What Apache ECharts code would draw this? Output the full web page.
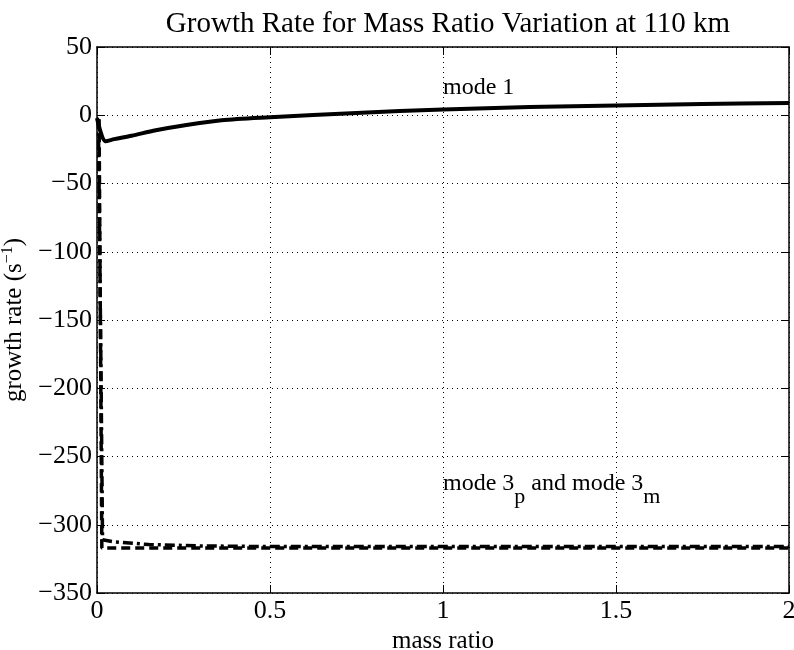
<!DOCTYPE html>
<html lang="en" style="height: 100%">
<head>
<meta charset="utf-8">
<title>Growth Rate for Mass Ratio Variation</title>
</head>
<body style="height: 100%; margin: 0; background: #fff">
<div id="container" style="width: 794px; height: 650px"></div>
<script type="text/javascript" src="https://cdn.jsdelivr.net/npm/echarts@6/dist/echarts.min.js"></script>
<script type="text/javascript">
var dom = document.getElementById('container');
var myChart = echarts.init(dom);

// mass ratio vs growth rate (s^-1)
var mode1 = [
  [0, -2], [0.025, -19], [0.05, -17.5], [0.1, -15], [0.17, -11],
  [0.25, -7.5], [0.36, -3.7], [0.5, -1.5], [0.75, 1.7], [1.0, 4.2],
  [1.25, 6], [1.5, 7.2], [1.75, 8.2], [2.0, 9]
];
var mode3p = [
  [0.004, -3], [0.012, -200], [0.016, -311], [0.05, -312.5], [0.15, -314.5],
  [0.3, -315.5], [0.5, -316], [1.0, -316], [1.5, -316], [2.0, -316]
];
var mode3m = [
  [0.006, -3], [0.011, -200], [0.014, -317], [0.5, -317], [1.0, -317],
  [1.5, -317], [2.0, -317]
];
var xTicks = [0, 0.5, 1, 1.5, 2];

var font = 'Liberation Serif';

option = {
  backgroundColor: '#fff',
  animation: false,
  title: {
    text: 'Growth Rate for Mass Ratio Variation at 110 km',
    left: 443,
    textAlign: 'center',
    top: 5,
    textStyle: {fontFamily: font, fontSize: 29, fontWeight: 'normal', color: '#000'}
  },
  grid: {left: 97, right: 5, top: 47, bottom: 57, outerBoundsMode: 'none', containLabel: false},
  xAxis: [
    {
      type: 'value', min: 0, max: 2, interval: 0.5,
      name: 'mass ratio', nameLocation: 'middle', nameGap: 31,
      nameTextStyle: {fontFamily: font, fontSize: 25, color: '#000'},
      axisLine: {onZero: false, lineStyle: {color: '#000', width: 1.5}},
      axisTick: {inside: true, length: 8, lineStyle: {color: '#000'}},
      axisLabel: {
        fontFamily: font, fontSize: 26, color: '#000', margin: 5,
        formatter: function (v) { return xTicks.indexOf(v) >= 0 ? String(v) : ''; }
      },
      splitLine: {show: true, lineStyle: {color: '#000', type: [1, 4], width: 1}}
    },
    {
      type: 'value', min: 0, max: 2, interval: 0.5, position: 'top',
      axisLine: {show: true, onZero: false, lineStyle: {color: '#000', width: 1.5}},
      axisTick: {inside: true, length: 8, lineStyle: {color: '#000'}},
      axisLabel: {show: false}, splitLine: {show: false}
    }
  ],
  yAxis: [
    {
      type: 'value', min: -350, max: 50, interval: 50,
      name: 'growth rate (s{sup|\u22121})', nameLocation: 'middle', nameGap: 64,
      nameTextStyle: {
        fontFamily: font, fontSize: 25, color: '#000',
        rich: {sup: {fontFamily: font, fontSize: 16, color: '#000', padding: [0, 0, 14, 0]}}
      },
      axisLine: {show: true, onZero: false, lineStyle: {color: '#000', width: 1.5}},
      axisTick: {inside: true, length: 8, lineStyle: {color: '#000'}},
      axisLabel: {
        fontFamily: font, fontSize: 26, color: '#000', margin: 5,
        formatter: function (v) { return v < 0 ? '\u2212' + Math.abs(v) : String(v); }
      },
      splitLine: {show: true, lineStyle: {color: '#000', type: [1, 4], width: 1}}
    },
    {
      type: 'value', min: -350, max: 50, interval: 50, position: 'right',
      axisLine: {show: true, onZero: false, lineStyle: {color: '#000', width: 1.5}},
      axisTick: {inside: true, length: 8, lineStyle: {color: '#000'}},
      axisLabel: {show: false}, splitLine: {show: false}
    }
  ],
  series: [
    {
      name: 'mode 1', type: 'line', data: mode1, showSymbol: false, smooth: 0.3,
      lineStyle: {color: '#000', width: 4},
      markPoint: {
        symbol: 'circle', symbolSize: 0, silent: true,
        data: [{coord: [1.0, 20]}],
        label: {
          show: true, position: 'right', distance: 0,
          formatter: 'mode 1',
          fontFamily: font, fontSize: 24, color: '#000'
        }
      }
    },
    {
      name: 'mode 3p', type: 'line', data: mode3p, showSymbol: false,
      lineStyle: {color: '#000', width: 3.5, type: [10, 4, 3, 4]},
      markPoint: {
        symbol: 'circle', symbolSize: 0, silent: true,
        data: [{coord: [1.0, -270]}],
        label: {
          show: true, position: 'right', distance: 0,
          formatter: '{a|mode 3}{s|p}{a| and mode 3}{s|m}',
          rich: {
            a: {fontFamily: font, fontSize: 24, color: '#000'},
            s: {fontFamily: font, fontSize: 22, color: '#000', padding: [26, 0, 0, 0]}
          }
        }
      }
    },
    {
      name: 'mode 3m', type: 'line', data: mode3m, showSymbol: false,
      lineStyle: {color: '#000', width: 3.5, type: [9, 5]}
    }
  ]
};

if (option && typeof option === 'object') {
  myChart.setOption(option);
}

window.addEventListener('resize', myChart.resize);
</script>
</body>
</html>
